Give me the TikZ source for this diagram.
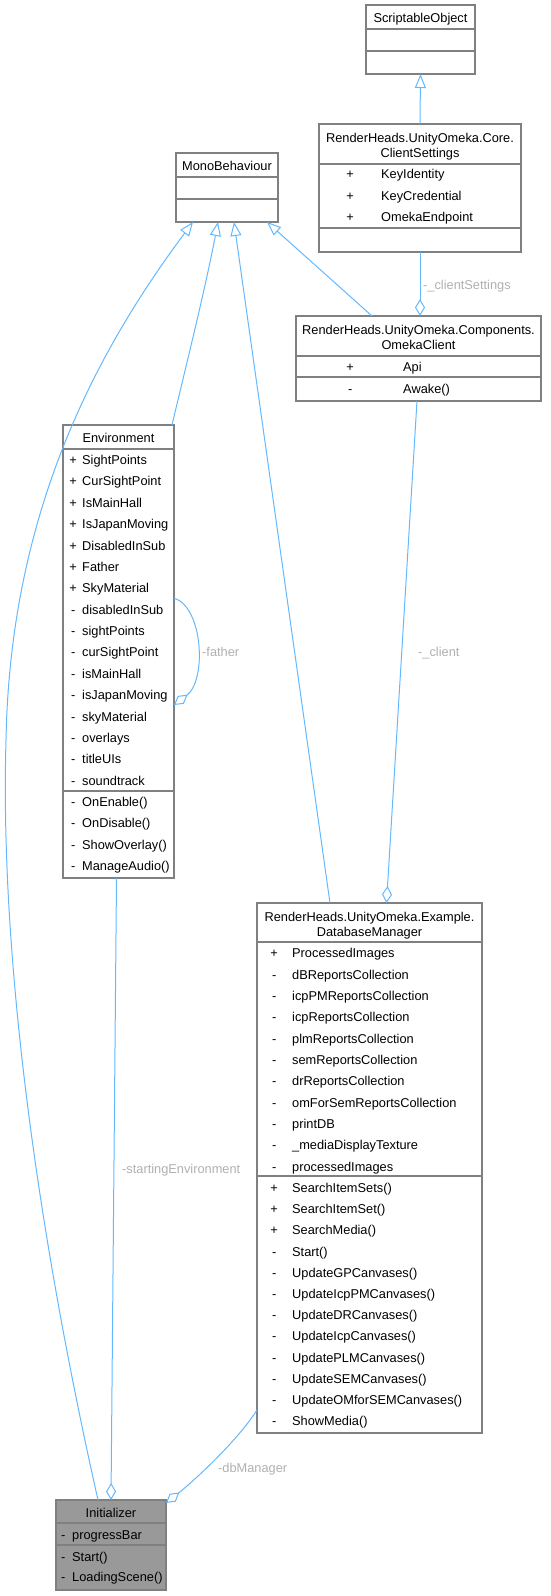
\documentclass[tikz,border=0pt]{standalone}
\usepackage{fontspec}
\setmainfont{Liberation Sans}
\usetikzlibrary{arrows.meta}

\definecolor{edgeblue}{HTML}{63B8FF}
\definecolor{boxgray}{HTML}{808080}
\definecolor{lblgray}{HTML}{B0B0B0}
\definecolor{focusfill}{HTML}{999999}

\tikzset{
  cls/.style={draw=boxgray,line width=1.1pt,fill=white,inner sep=0pt,outer sep=0pt},
  sep/.style={draw=boxgray,line width=1.1pt},
  txt/.style={inner sep=0pt,text height=9pt,text depth=0pt,font=\fontsize{12.8}{15}\selectfont},
  mem/.style={txt,anchor=west},
  lbl/.style={txt,anchor=west,text=lblgray},
  inherit/.style={draw=edgeblue,line width=1pt,-{Triangle[open,length=14pt,width=11pt]}},
  aggr/.style={draw=edgeblue,line width=1pt,-{Diamond[open,length=17pt,width=10pt]}}
}

\begin{document}
\begin{tikzpicture}[x=1pt,y=-1pt]
\useasboundingbox (0,0) rectangle (550,1596);

% class boxes
\node[cls,minimum width=109pt,minimum height=69pt] (so) at (420.5,39.5) {};
\node[cls,minimum width=202pt,minimum height=128pt] (cs) at (420,188) {};
\node[cls,minimum width=102pt,minimum height=69pt] (mb) at (227,187.5) {};
\node[cls,minimum width=245pt,minimum height=85pt] (oc) at (418.5,358.5) {};
\node[cls,minimum width=111pt,minimum height=453pt] (env) at (118.5,651.5) {};
\node[cls,minimum width=225pt,minimum height=530pt] (db) at (369.5,1168) {};
\node[cls,fill=focusfill,minimum width=110pt,minimum height=90pt] (init) at (111,1545) {};

% compartments
\draw[sep] (so.west |- 0,29) -- (so.east |- 0,29);
\draw[sep] (so.west |- 0,51) -- (so.east |- 0,51);
\draw[sep] (cs.west |- 0,164) -- (cs.east |- 0,164);
\draw[sep] (cs.west |- 0,228) -- (cs.east |- 0,228);
\draw[sep] (mb.west |- 0,177) -- (mb.east |- 0,177);
\draw[sep] (mb.west |- 0,199) -- (mb.east |- 0,199);
\draw[sep] (oc.west |- 0,356) -- (oc.east |- 0,356);
\draw[sep] (oc.west |- 0,377) -- (oc.east |- 0,377);
\draw[sep] (env.west |- 0,449) -- (env.east |- 0,449);
\draw[sep] (env.west |- 0,791) -- (env.east |- 0,791);
\draw[sep] (db.west |- 0,942) -- (db.east |- 0,942);
\draw[sep] (db.west |- 0,1176) -- (db.east |- 0,1176);
\draw[sep] (init.west |- 0,1523) -- (init.east |- 0,1523);
\draw[sep] (init.west |- 0,1545) -- (init.east |- 0,1545);

% titles
\node[txt] (so-t) at (420.5,18) {ScriptableObject};
\node[txt] (cs-t1) at (420,137.7) {RenderHeads.UnityOmeka.Core.};
\node[txt] (cs-t2) at (420,153.3) {ClientSettings};
\node[txt] (mb-t) at (227,166) {MonoBehaviour};
\node[txt] (oc-t1) at (418.5,330) {RenderHeads.UnityOmeka.Components.};
\node[txt] (oc-t2) at (418.5,345) {OmekaClient};
\node[txt] (env-t) at (118.5,438) {Environment};
\node[txt] (db-t1) at (369.5,916.7) {RenderHeads.UnityOmeka.Example.};
\node[txt] (db-t2) at (369.5,932.3) {DatabaseManager};
\node[txt] (init-t) at (111,1513) {Initializer};

% ClientSettings
\node[mem] (cs-a1) at (319,174) {\makebox[62pt]{+}KeyIdentity};
\node[mem] (cs-a2) at (319,195.5) {\makebox[62pt]{+}KeyCredential};
\node[mem] (cs-a3) at (319,217) {\makebox[62pt]{+}OmekaEndpoint};

% OmekaClient
\node[mem] (oc-a1) at (297,366.7) {\makebox[106pt]{+}Api};
\node[mem] (oc-m1) at (297,389) {\makebox[106pt]{-}Awake()};

% Environment
\node[mem] (env-a1) at (64,460) {\makebox[18pt]{+}SightPoints};
\node[mem] (env-a2) at (64,481.4) {\makebox[18pt]{+}CurSightPoint};
\node[mem] (env-a3) at (64,502.8) {\makebox[18pt]{+}IsMainHall};
\node[mem] (env-a4) at (64,524.1) {\makebox[18pt]{+}IsJapanMoving};
\node[mem] (env-a5) at (64,545.5) {\makebox[18pt]{+}DisabledInSub};
\node[mem] (env-a6) at (64,566.9) {\makebox[18pt]{+}Father};
\node[mem] (env-a7) at (64,588.3) {\makebox[18pt]{+}SkyMaterial};
\node[mem] (env-a8) at (64,609.7) {\makebox[18pt]{-}disabledInSub};
\node[mem] (env-a9) at (64,631) {\makebox[18pt]{-}sightPoints};
\node[mem] (env-a10) at (64,652.4) {\makebox[18pt]{-}curSightPoint};
\node[mem] (env-a11) at (64,673.8) {\makebox[18pt]{-}isMainHall};
\node[mem] (env-a12) at (64,695.2) {\makebox[18pt]{-}isJapanMoving};
\node[mem] (env-a13) at (64,716.6) {\makebox[18pt]{-}skyMaterial};
\node[mem] (env-a14) at (64,737.9) {\makebox[18pt]{-}overlays};
\node[mem] (env-a15) at (64,759.3) {\makebox[18pt]{-}titleUIs};
\node[mem] (env-a16) at (64,780.7) {\makebox[18pt]{-}soundtrack};
\node[mem] (env-m1) at (64,801.7) {\makebox[18pt]{-}OnEnable()};
\node[mem] (env-m2) at (64,823.1) {\makebox[18pt]{-}OnDisable()};
\node[mem] (env-m3) at (64,844.5) {\makebox[18pt]{-}ShowOverlay()};
\node[mem] (env-m4) at (64,865.9) {\makebox[18pt]{-}ManageAudio()};

% DatabaseManager
\node[mem] (db-a1) at (256,953.3) {\makebox[36pt]{+}ProcessedImages};
\node[mem] (db-a2) at (256,974.6) {\makebox[36pt]{-}dBReportsCollection};
\node[mem] (db-a3) at (256,996) {\makebox[36pt]{-}icpPMReportsCollection};
\node[mem] (db-a4) at (256,1017.3) {\makebox[36pt]{-}icpReportsCollection};
\node[mem] (db-a5) at (256,1038.7) {\makebox[36pt]{-}plmReportsCollection};
\node[mem] (db-a6) at (256,1060) {\makebox[36pt]{-}semReportsCollection};
\node[mem] (db-a7) at (256,1081.3) {\makebox[36pt]{-}drReportsCollection};
\node[mem] (db-a8) at (256,1102.7) {\makebox[36pt]{-}omForSemReportsCollection};
\node[mem] (db-a9) at (256,1124) {\makebox[36pt]{-}printDB};
\node[mem] (db-a10) at (256,1145.4) {\makebox[36pt]{-}\_mediaDisplayTexture};
\node[mem] (db-a11) at (256,1166.7) {\makebox[36pt]{-}processedImages};
\node[mem] (db-m1) at (256,1188) {\makebox[36pt]{+}SearchItemSets()};
\node[mem] (db-m2) at (256,1209.2) {\makebox[36pt]{+}SearchItemSet()};
\node[mem] (db-m3) at (256,1230.4) {\makebox[36pt]{+}SearchMedia()};
\node[mem] (db-m4) at (256,1251.6) {\makebox[36pt]{-}Start()};
\node[mem] (db-m5) at (256,1272.8) {\makebox[36pt]{-}UpdateGPCanvases()};
\node[mem] (db-m6) at (256,1294) {\makebox[36pt]{-}UpdateIcpPMCanvases()};
\node[mem] (db-m7) at (256,1315.2) {\makebox[36pt]{-}UpdateDRCanvases()};
\node[mem] (db-m8) at (256,1336.4) {\makebox[36pt]{-}UpdateIcpCanvases()};
\node[mem] (db-m9) at (256,1357.6) {\makebox[36pt]{-}UpdatePLMCanvases()};
\node[mem] (db-m10) at (256,1378.8) {\makebox[36pt]{-}UpdateSEMCanvases()};
\node[mem] (db-m11) at (256,1400) {\makebox[36pt]{-}UpdateOMforSEMCanvases()};
\node[mem] (db-m12) at (256,1421.2) {\makebox[36pt]{-}ShowMedia()};

% Initializer
\node[mem] (init-a1) at (54,1535) {\makebox[18pt]{-}progressBar};
\node[mem] (init-m1) at (54,1556.7) {\makebox[18pt]{-}Start()};
\node[mem] (init-m2) at (54,1577.3) {\makebox[18pt]{-}LoadingScene()};

% generalisation
\draw[inherit] (cs.north) -- (so.south);
\draw[inherit] ([xshift=76pt]oc.north west) -- ([xshift=-11pt]mb.south east);
\draw[inherit] ([xshift=73pt]db.north west) -- ([xshift=58pt]mb.south west);
\draw[inherit] ([xshift=-2pt]env.north east) .. controls (185,370) and (205,290) .. ([xshift=42pt]mb.south west);
\draw[inherit] ([xshift=42pt]init.north west) .. controls (35,1220) and (0,950) .. (6,740)
  .. controls (10,520) and (90,360) .. ([xshift=17pt]mb.south west);

% aggregation
\draw[aggr] (cs.south) -- ([xshift=1.5pt]oc.north);
\node[lbl] (lbl-cs) at (423,285) {-\_clientSettings};
\draw[aggr] ([xshift=-1.5pt]oc.south) -- ([xshift=17pt]db.north);
\node[lbl] (lbl-client) at (418,652) {-\_client};
\draw[aggr] (env.east |- 0,598) .. controls (203,607) and (207,680) .. (env.east |- 0,705);
\node[lbl] (lbl-father) at (202,652) {-father};
\draw[aggr] ([xshift=-2pt]env.south) -- (init.north);
\node[lbl] (lbl-start) at (122,1169) {-startingEnvironment};
\draw[aggr] ([yshift=23pt]db.south west) .. controls (238,1440) and (195,1480) .. ([yshift=-3pt]init.north east);
\node[lbl] (lbl-db) at (218,1468) {-dbManager};
\end{tikzpicture}
\end{document}
